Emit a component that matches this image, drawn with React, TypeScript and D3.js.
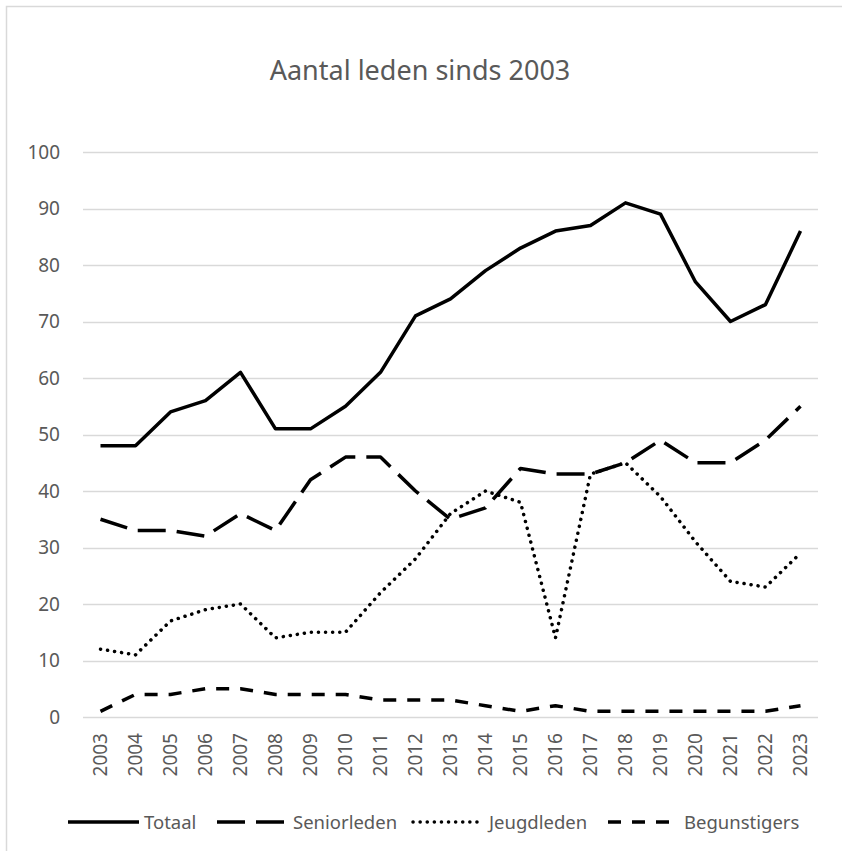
import { useRef, useEffect } from 'react';
import * as d3 from 'd3';

const years = [
  '2003', '2004', '2005', '2006', '2007', '2008', '2009', '2010', '2011', '2012', '2013',
  '2014', '2015', '2016', '2017', '2018', '2019', '2020', '2021', '2022', '2023',
];
const totaal = [48, 48, 54, 56, 61, 51, 51, 55, 61, 71, 74, 79, 83, 86, 87, 91, 89, 77, 70, 73, 86];
const seniorleden = [35, 33, 33, 32, 36, 33, 42, 46, 46, 40, 35, 37, 44, 43, 43, 45, 49, 45, 45, 49, 55];
const jeugdleden = [12, 11, 17, 19, 20, 14, 15, 15, 22, 28, 36, 40, 38, 14, 43, 45, 39, 31, 24, 23, 29];
const begunstigers = [1, 4, 4, 5, 5, 4, 4, 4, 3, 3, 3, 2, 1, 2, 1, 1, 1, 1, 1, 1, 2];
const yTicks = [0, 10, 20, 30, 40, 50, 60, 70, 80, 90, 100];

const seriesNames = ['Totaal', 'Seniorleden', 'Jeugdleden', 'Begunstigers'];
const seriesValues = [totaal, seniorleden, jeugdleden, begunstigers];
// dash styles per serie (Excel: solid, long dash, round dot, dash)
const dashes = [null, '28 11', '0.1 7', '13 11'];
const caps = ['butt', 'butt', 'round', 'butt'];

const width = 842;
const height = 851;
const font = "'Noto Sans', 'DejaVu Sans', sans-serif";
const textColor = '#595959';

const LineChart = () => {
  const d3Container = useRef(null);

  useEffect(() => {
    document.body.style.margin = '0';
    const root = d3.select(d3Container.current);
    root.select('svg').remove();

    const svg = root
      .append('svg')
      .attr('width', width)
      .attr('height', height)
      .style('display', 'block')
      .style('background', '#fff');

    // chart border (runs off the right and bottom of the picture)
    svg
      .append('rect')
      .attr('x', 6.5)
      .attr('y', 6.5)
      .attr('width', width)
      .attr('height', height)
      .attr('fill', 'none')
      .attr('stroke', '#d9d9d9')
      .attr('stroke-width', 1.5);

    svg
      .append('text')
      .attr('x', 420)
      .attr('y', 80)
      .attr('text-anchor', 'middle')
      .style('font-family', font)
      .style('font-size', '27px')
      .style('fill', textColor)
      .text('Aantal leden sinds 2003');

    const x = d3.scaleBand().domain(years).range([83, 818]);
    const y = d3.scaleLinear().domain([0, 100]).range([717, 152]);

    // gridlines
    svg
      .append('g')
      .selectAll('line')
      .data(yTicks)
      .enter()
      .append('line')
      .attr('x1', 83)
      .attr('x2', 818)
      .attr('y1', d => Math.round(y(d)) + 0.5)
      .attr('y2', d => Math.round(y(d)) + 0.5)
      .attr('stroke', '#d9d9d9')
      .attr('stroke-width', 1.3);

    // y labels
    svg
      .append('g')
      .selectAll('text')
      .data(yTicks)
      .enter()
      .append('text')
      .attr('x', 60)
      .attr('y', d => y(d))
      .attr('dy', '0.36em')
      .attr('text-anchor', 'end')
      .style('font-family', font)
      .style('font-size', '19px')
      .style('fill', textColor)
      .text(d => d);

    // x labels, rotated
    svg
      .append('g')
      .selectAll('text')
      .data(years)
      .enter()
      .append('text')
      .attr('transform', d => `translate(${x(d) + x.bandwidth() / 2}, 733) rotate(-90)`)
      .attr('dy', '0.36em')
      .attr('text-anchor', 'end')
      .style('font-family', font)
      .style('font-size', '19px')
      .style('fill', textColor)
      .text(d => d);

    const line = d3
      .line()
      .x((d, i) => x(years[i]) + x.bandwidth() / 2)
      .y(d => y(d));

    svg
      .append('g')
      .selectAll('path')
      .data(seriesValues)
      .enter()
      .append('path')
      .attr('d', d => line(d))
      .attr('fill', 'none')
      .attr('stroke', '#000')
      .attr('stroke-width', 3.5)
      .attr('stroke-linejoin', 'round')
      .attr('stroke-linecap', (d, i) => caps[i])
      .attr('stroke-dasharray', (d, i) => dashes[i]);

    // legend
    const legendX = [68, 217, 413, 608];
    const legendY = 822;
    const legend = svg
      .append('g')
      .selectAll('g')
      .data(seriesNames)
      .enter()
      .append('g')
      .attr('transform', (d, i) => `translate(${legendX[i]}, ${legendY})`);

    legend
      .append('line')
      .attr('x1', 0)
      .attr('x2', 71)
      .attr('y1', 0)
      .attr('y2', 0)
      .attr('stroke', '#000')
      .attr('stroke-width', 3.5)
      .attr('stroke-linecap', (d, i) => caps[i])
      .attr('stroke-dasharray', (d, i) => dashes[i]);

    legend
      .append('text')
      .attr('x', 76)
      .attr('y', 0)
      .attr('dy', '0.36em')
      .style('font-family', font)
      .style('font-size', '18.5px')
      .style('fill', textColor)
      .text(d => d);
  }, []);

  return <div ref={d3Container} />;
};

export default function App() {
  return <LineChart />;
}
